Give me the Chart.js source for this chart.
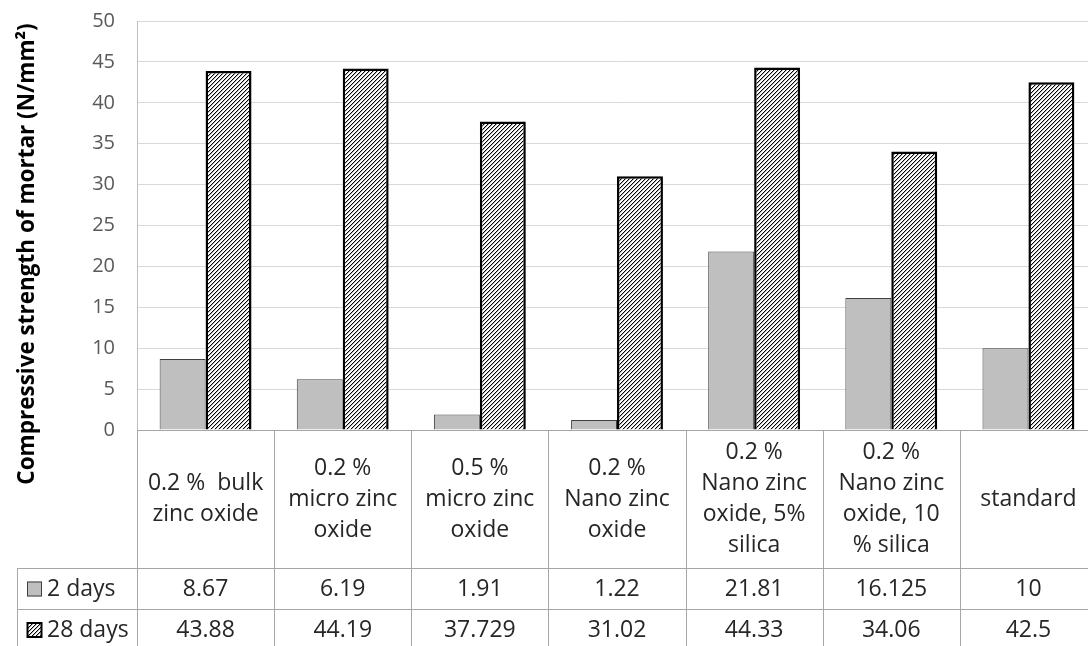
<!DOCTYPE html>
<html>
<head>
<meta charset="utf-8">
<script src="https://cdn.jsdelivr.net/npm/chart.js@4"></script>
<style>
  html, body { margin: 0; padding: 0; background: #fff; overflow: hidden; }
</style>
</head>
<body>
<canvas id="chart" width="1100" height="646"></canvas>
<script>
// Chart data
const categories = [
    ['0.2 %  bulk', 'zinc oxide'],
    ['0.2 %', 'micro zinc', 'oxide'],
    ['0.5 %', 'micro zinc', 'oxide'],
    ['0.2 %', 'Nano zinc', 'oxide'],
    ['0.2 %', 'Nano zinc', 'oxide, 5%', 'silica'],
    ['0.2 %', 'Nano zinc', 'oxide, 10', '% silica'],
    ['standard']
];
const seriesNames = ['2 days', '28 days'];
const days2 = [8.67, 6.19, 1.91, 1.22, 21.81, 16.125, 10];
const days28 = [43.88, 44.19, 37.729, 31.02, 44.33, 34.06, 42.5];
const yMin = 0, yMax = 50, yStep = 5;
const yTitle = 'Compressive strength of mortar (N/mm\u00B2)';

const FONT = '"Open Sans", sans-serif';
const canvas = document.getElementById('chart');
const ctx = canvas.getContext('2d');

// Diagonal hatch (wide upward diagonal) used by the 28 days series
function makeHatch() {
    const tile = document.createElement('canvas');
    tile.width = 4;
    tile.height = 4;
    const g = tile.getContext('2d');
    g.fillStyle = '#fff';
    g.fillRect(0, 0, 4, 4);
    for (let y = 0; y < 4; y++) {
        g.fillStyle = '#000';
        g.fillRect(3 - y, y, 1, 1);
        g.fillStyle = '#b5b5b5';
        g.fillRect((4 - y) % 4, y, 1, 1);
    }
    return ctx.createPattern(tile, 'repeat');
}
const hatch = makeHatch();

const seriesStyles = [
    { fill: '#bfbfbf', border: '#404040', width: 1 },
    { fill: hatch, border: '#000', width: 2.5 }
];

// Excel style data table under the plot, plus the y title
const dataTablePlugin = {
    id: 'dataTable',
    afterDraw(chart) {
        const c = chart.ctx;
        const area = chart.chartArea;
        const x = chart.scales.x;
        const colW = (area.right - area.left) / categories.length;
        const top = area.bottom;
        const headBottom = 568;
        const row1Bottom = 609;
        const bottom = 650;
        const legendLeft = 17;

        c.save();
        c.strokeStyle = '#a6a6a6';
        c.lineWidth = 1;
        c.beginPath();
        c.moveTo(area.left, top + 0.5); c.lineTo(area.right, top + 0.5);
        c.moveTo(legendLeft, headBottom + 0.5); c.lineTo(area.right, headBottom + 0.5);
        c.moveTo(legendLeft, row1Bottom + 0.5); c.lineTo(area.right, row1Bottom + 0.5);
        c.moveTo(legendLeft + 0.5, headBottom); c.lineTo(legendLeft + 0.5, bottom);
        for (let i = 0; i <= categories.length; i++) {
            const lx = Math.round(area.left + i * colW) + 0.5;
            c.moveTo(lx, top); c.lineTo(lx, bottom);
        }
        c.stroke();

        c.fillStyle = '#262626';
        c.font = '23px ' + FONT;
        c.textAlign = 'center';
        c.textBaseline = 'middle';
        const lineH = 31;
        const headMid = (top + headBottom) / 2;
        categories.forEach((lines, i) => {
            const cx = x.getPixelForValue(i);
            const y0 = headMid - (lines.length - 1) * lineH / 2;
            lines.forEach((t, j) => c.fillText(t, cx, y0 + j * lineH));
        });

        const rows = [days2, days28];
        const rowMids = [(headBottom + row1Bottom) / 2, (row1Bottom + bottom) / 2];
        rows.forEach((vals, r) => {
            c.fillStyle = '#262626';
            vals.forEach((v, i) => {
                c.fillText(String(v), x.getPixelForValue(i), rowMids[r] + 1);
            });
            // legend key
            const st = seriesStyles[r];
            const kx = 27, ky = rowMids[r] - 7, ks = 15;
            c.fillStyle = st.fill;
            c.fillRect(kx, ky, ks, ks);
            c.strokeStyle = st.border;
            c.lineWidth = r === 0 ? 1 : 2;
            c.strokeRect(kx + 0.5, ky + 0.5, ks - 1, ks - 1);
            c.fillStyle = '#262626';
            c.textAlign = 'left';
            c.fillText(seriesNames[r], 47, rowMids[r] + 1);
            c.textAlign = 'center';
        });

        // y axis title
        c.translate(28, 254);
        c.rotate(-Math.PI / 2);
        c.fillStyle = '#000';
        c.font = 'bold 22.5px ' + FONT;
        c.fillText(yTitle, 0, 0);
        c.restore();
    }
};

new Chart(ctx, {
    type: 'bar',
    data: {
        labels: categories,
        datasets: [
            {
                label: seriesNames[0],
                data: days2,
                backgroundColor: seriesStyles[0].fill,
                borderColor: seriesStyles[0].border,
                borderWidth: seriesStyles[0].width,
                categoryPercentage: 0.67,
                barPercentage: 1.0
            },
            {
                label: seriesNames[1],
                data: days28,
                backgroundColor: seriesStyles[1].fill,
                borderColor: seriesStyles[1].border,
                borderWidth: seriesStyles[1].width,
                categoryPercentage: 0.67,
                barPercentage: 1.0
            }
        ]
    },
    options: {
        responsive: false,
        animation: false,
        layout: { padding: { left: 0, top: 21, right: 3, bottom: 216 } },
        plugins: {
            legend: { display: false },
            tooltip: { enabled: false }
        },
        scales: {
            x: { display: false },
            y: {
                min: yMin,
                max: yMax,
                ticks: {
                    stepSize: yStep,
                    padding: 22,
                    color: '#595959',
                    font: { family: FONT, size: 20 }
                },
                grid: { color: '#d9d9d9', drawTicks: false },
                border: { color: '#bfbfbf' },
                afterFit(scale) {
                    scale.width = 137;
                    scale.paddingTop = 0;
                    scale.paddingBottom = 0;
                }
            }
        }
    },
    plugins: [dataTablePlugin]
});
</script>
</body>
</html>
